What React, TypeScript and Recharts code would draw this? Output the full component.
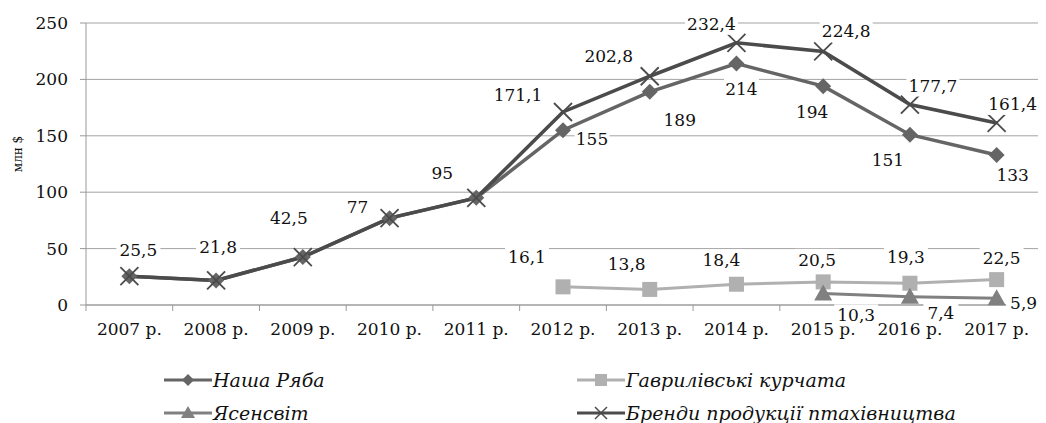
import { CartesianGrid, Label, Legend, Line, LineChart, XAxis, YAxis } from "recharts";

const years = ["2007 р.", "2008 р.", "2009 р.", "2010 р.", "2011 р.", "2012 р.", "2013 р.", "2014 р.", "2015 р.", "2016 р.", "2017 р."];
const nashaRyaba = [25.5, 21.8, 42.5, 77, 95, 155, 189, 214, 194, 151, 133];
const gavrylivski = [null, null, null, null, null, 16.1, 13.8, 18.4, 20.5, 19.3, 22.5];
const yasensvit = [null, null, null, null, null, null, null, null, 10.3, 7.4, 5.9];
const brands = [25.5, 21.8, 42.5, 77, 95, 171.1, 202.8, 232.4, 224.8, 177.7, 161.4];
const yTicks = [0, 50, 100, 150, 200, 250];

const rows = years.map((year, i) => ({
  year,
  nasha: nashaRyaba[i],
  gavr: gavrylivski[i],
  yas: yasensvit[i],
  brand: brands[i],
}));

// label placement (center offset from point), per series
const brandShift: number[][] = [[9, -26], [2, -33], [-14, -39], [-32, -11], [-34, -25], [-45, -17], [-41, -20], [-25, -19], [23, -20], [23, -19], [16, -19]];
const nashaShift: Record<number, number[]> = { 5: [29, 9], 6: [30, 28], 7: [5, 25], 8: [-11, 26], 9: [-22, 25], 10: [16, 20] };
const gavrShift: Record<number, number[]> = { 5: [-36, -30], 6: [-23, -25], 7: [-15, -24], 8: [-6, -22], 9: [-4, -26], 10: [5, -22] };
const yasShift: Record<number, number[]> = { 8: [33, 22], 9: [31, 16], 10: [27, 5] };

const FONT = "DejaVu Serif";
const W = 1038;
const H = 415;
const PLOT_L = 78;
const PLOT_R = 1032;
const PLOT_B = 297;
const BAND = (PLOT_R - PLOT_L) / years.length;

const C_BRAND = "#4b4b4b";
const C_NASHA = "#656565";
const C_GAVR = "#b0b0b0";
const C_YAS = "#808080";

const fmt = (v: number) => String(v).replace(".", ",");

function makeLabel(shifts: Record<number, number[]> | number[][]) {
  return (p: any) => {
    const idx = p.index;
    const s = (shifts as any)[idx];
    if (p.value == null || !s) return null;
    const x = (p.x ?? p.viewBox?.x) + s[0];
    const y = (p.y ?? p.viewBox?.y) + s[1];
    const t = fmt(p.value);
    const w = t.length * 9 + 8;
    return (
      <g key={`lb-${idx}`}>
        <rect x={x - w / 2} y={y - 11} width={w} height={22} fill="#fff" />
        <text x={x} y={y + 6} textAnchor="middle" fontFamily={FONT} fontSize={17} fill="#111">
          {t}
        </text>
      </g>
    );
  };
}

const diamond = (p: any) => {
  if (p.cy == null) return <g key={p.index} />;
  const { cx, cy } = p;
  return <path key={p.index} d={`M${cx},${cy - 8}L${cx + 8},${cy}L${cx},${cy + 8}L${cx - 8},${cy}Z`} fill={C_NASHA} />;
};
const square = (p: any) => {
  if (p.cy == null) return <g key={p.index} />;
  return <rect key={p.index} x={p.cx - 7.5} y={p.cy - 7.5} width={15} height={15} fill={C_GAVR} />;
};
const triangle = (p: any) => {
  if (p.cy == null) return <g key={p.index} />;
  const { cx, cy } = p;
  return <path key={p.index} d={`M${cx},${cy - 9}L${cx + 9},${cy + 7}L${cx - 9},${cy + 7}Z`} fill={C_YAS} />;
};
const cross = (p: any) => {
  if (p.cy == null) return <g key={p.index} />;
  const { cx, cy } = p;
  return (
    <g key={p.index} stroke={C_BRAND} strokeWidth={1.8}>
      <line x1={cx - 9} y1={cy - 9} x2={cx + 9} y2={cy + 9} />
      <line x1={cx - 9} y1={cy + 9} x2={cx + 9} y2={cy - 9} />
    </g>
  );
};

const XTick = (p: any) => {
  const { x, payload, index } = p;
  const last = index === years.length - 1;
  return (
    <g>
      <line x1={x - BAND / 2} x2={x - BAND / 2} y1={PLOT_B} y2={PLOT_B + 6} stroke="#999" />
      {last && <line x1={x + BAND / 2} x2={x + BAND / 2} y1={PLOT_B} y2={PLOT_B + 6} stroke="#999" />}
      <text x={x} y={PLOT_B + 30} textAnchor="middle" fontFamily={FONT} fontSize={17} fill="#111">
        {payload.value}
      </text>
    </g>
  );
};

const legendItems = [
  { name: "Наша Ряба", color: C_NASHA, mark: "diamond", left: 156, top: 17 },
  { name: "Гаврилівські курчата", color: C_GAVR, mark: "square", left: 569, top: 17 },
  { name: "Ясенсвіт", color: C_YAS, mark: "triangle", left: 156, top: 50 },
  { name: "Бренди продукції птахівництва", color: C_BRAND, mark: "cross", left: 569, top: 50 },
];

function LegendMark({ color, mark }: { color: string; mark: string }) {
  return (
    <svg width={48} height={20} style={{ display: "block" }}>
      <line x1={0} x2={48} y1={10} y2={10} stroke={color} strokeWidth={3} />
      {mark === "diamond" && <path d="M24,4L30,10L24,16L18,10Z" fill={color} />}
      {mark === "square" && <rect x={18} y={4} width={12} height={12} fill={color} />}
      {mark === "triangle" && <path d="M24,3L31,15L17,15Z" fill={color} />}
      {mark === "cross" && (
        <g stroke={color} strokeWidth={1.5}>
          <line x1={18} y1={4} x2={30} y2={16} />
          <line x1={18} y1={16} x2={30} y2={4} />
        </g>
      )}
    </svg>
  );
}

const renderLegend = () => (
  <div style={{ position: "relative", width: W, height: 60 }}>
    {legendItems.map((it) => (
      <div
        key={it.name}
        style={{ position: "absolute", left: it.left, top: it.top - 10, display: "flex", alignItems: "center", height: 20 }}
      >
        <LegendMark color={it.color} mark={it.mark} />
        <span style={{ fontFamily: FONT, fontStyle: "italic", fontSize: 19, color: "#111", lineHeight: "20px", marginLeft: 1 }}>
          {it.name}
        </span>
      </div>
    ))}
  </div>
);

export default function App() {
  return (
    <LineChart width={W} height={H} data={rows} margin={{ top: 15, right: W - PLOT_R, left: 0, bottom: 0 }}>
      <CartesianGrid vertical={false} stroke="#a3a3a3" />
      <XAxis
        dataKey="year"
        height={H - 60 - PLOT_B}
        padding={{ left: BAND / 2, right: BAND / 2 }}
        axisLine={{ stroke: "#999" }}
        tickLine={false}
        tickSize={0}
        tick={<XTick />}
        interval={0}
      />
      <YAxis
        width={PLOT_L}
        domain={[0, 250]}
        ticks={yTicks}
        axisLine={{ stroke: "#999" }}
        tickLine={{ stroke: "#999" }}
        tickSize={6}
        tickMargin={12}
        tick={{ fill: "#111", fontSize: 17, fontFamily: FONT }}
      >
        <Label
          content={() => (
            <text x={14} y={146} transform="rotate(-90 14 146)" textAnchor="middle" fontFamily={FONT} fontSize={12} fill="#111">
              млн $
            </text>
          )}
        />
      </YAxis>
      <Legend content={renderLegend} verticalAlign="bottom" wrapperStyle={{ left: 0, width: W, height: 60 }} />
      <Line dataKey="nasha" name="Наша Ряба" stroke={C_NASHA} strokeWidth={3.5} dot={diamond} label={makeLabel(nashaShift)} isAnimationActive={false} />
      <Line dataKey="gavr" name="Гаврилівські курчата" stroke={C_GAVR} strokeWidth={3} dot={square} label={makeLabel(gavrShift)} isAnimationActive={false} />
      <Line dataKey="yas" name="Ясенсвіт" stroke={C_YAS} strokeWidth={3} dot={triangle} label={makeLabel(yasShift)} isAnimationActive={false} />
      <Line dataKey="brand" name="Бренди продукції птахівництва" stroke={C_BRAND} strokeWidth={3.5} dot={cross} label={makeLabel(brandShift)} isAnimationActive={false} />
    </LineChart>
  );
}
